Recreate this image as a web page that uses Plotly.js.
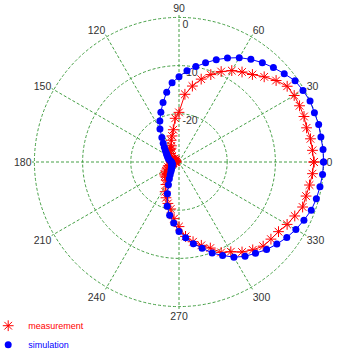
<!DOCTYPE html>
<html>
<head>
<meta charset="utf-8">
<script src="https://cdn.plot.ly/plotly-3.0.1.min.js"></script>
<style>html,body{margin:0;padding:0;background:#fff;}#chart{width:337px;height:352px;}</style>
</head>
<body>
<div id="chart"></div>
<script>
// angles in degrees
const angles = [0,5,10,15,20,25,30,35,40,45,50,55,60,65,70,75,80,85,90,95,100,105,110,115,120,125,130,135,140,145,150,155,160,165,170,175,180,185,190,195,200,205,210,215,220,225,230,235,240,245,250,255,260,265,270,275,280,285,290,295,300,305,310,315,320,325,330,335,340,345,350,355];
// measurement (dB)
const measurement = [-2.0,-2.2,-2.3,-2.6,-2.4,-2.4,-2.4,-2.6,-3.7,-5.0,-6.3,-7.2,-8.1,-9.3,-10.7,-12.2,-14.0,-15.9,-19.7,-20.9,-23.2,-24.4,-25.2,-26.3,-26.7,-26.8,-26.9,-27.5,-28.1,-28.8,-29.2,-29.2,-29.0,-29.0,-29.2,-29.4,-29.4,-29.2,-28.8,-28.3,-27.9,-27.5,-27.1,-26.7,-26.1,-25.9,-25.9,-25.4,-24.6,-23.2,-22.1,-21.1,-20.1,-18.2,-16.6,-14.5,-13.2,-12.1,-11.0,-9.3,-8.5,-7.2,-6.2,-5.3,-5.1,-4.8,-4.1,-3.5,-2.7,-2.7,-2.5,-2.2];
// simulation (dB)
const simulation = [0,0,-0.1,0,-0.1,0,-0.3,-0.6,-1.5,-2.3,-3.1,-4.0,-5.0,-6.2,-7.4,-8.7,-9.9,-11.0,-12.3,-13.5,-15.3,-17.2,-19.0,-20.6,-22.1,-23.8,-24.9,-25.7,-26.3,-26.8,-27.1,-27.4,-27.6,-27.8,-28.1,-28.3,-28.4,-28.5,-28.5,-28.5,-28.5,-28.4,-28.3,-28.2,-28.0,-27.7,-27.4,-26.8,-26.0,-24.8,-23.0,-20.5,-18.8,-17.3,-15.6,-14.2,-12.8,-11.5,-9.9,-8.6,-7.2,-6.1,-5.3,-4.3,-3.5,-2.7,-2.0,-1.4,-0.8,-0.5,-0.3,-0.1];
const angleTicks = [0,30,60,90,120,150,180,210,240,270,300,330];
const angleTickText = ['0','30','60','90','120','150','180','210','240','270','300','330'];
const radialTicks = [-20,-10,0];
const radialTickText = ['-20','-10','0'];
const seriesNames = ['measurement','simulation'];

const close = a => a.concat([a[0]]);
const grid = 'rgb(70,160,70)';
const red = '#ff0000', blue = '#0000ff';
const nb = '\u00a0';
// place the radial labels just right of and below their ring (MATLAB style)
const radialLabels = radialTickText.map(t => nb + '<br>' + nb + t);

const traces = [
  {type:'scatterpolar', mode:'lines+markers', showlegend:false,
   theta: close(angles), r: close(measurement),
   line:{color:red, width:1},
   marker:{symbol:'asterisk-open', size:9, color:red, line:{color:red, width:1}}},
  {type:'scatterpolar', mode:'lines+markers', showlegend:false,
   theta: close(angles), r: close(simulation),
   line:{color:blue, width:1},
   marker:{symbol:'circle', size:7, color:blue}},
  // legend entries
  {type:'scatterpolar', mode:'markers', name:'<span style="color:#ff0000">'+seriesNames[0]+'</span>',
   theta:[null], r:[null], marker:{symbol:'asterisk-open', size:9, color:red, line:{color:red, width:1}}},
  {type:'scatterpolar', mode:'markers', name:'<span style="color:#0000ff">'+seriesNames[1]+'</span>',
   theta:[null], r:[null], marker:{symbol:'circle', size:7, color:blue}}
];

const layout = {
  width:337, height:352,
  margin:{l:31.6, r:10.6, t:14.6, b:42.6, autoexpand:false},
  paper_bgcolor:'#fff',
  font:{family:'Liberation Sans, Arial, sans-serif', size:10, color:'#333'},
  showlegend:true,
  legend:{xref:'paper', yref:'paper', x:-0.149, y:-0.0075, xanchor:'left', yanchor:'top',
          font:{size:9, color:'#333'}, bgcolor:'rgba(0,0,0,0)', tracegroupgap:0, itemwidth:30},
  polar:{
    bgcolor:'#fff',
    domain:{x:[0,1], y:[0,1]},
    angularaxis:{direction:'counterclockwise', rotation:0, tickmode:'array',
      tickvals:angleTicks, ticktext:angleTickText, ticks:'', showline:false, layer:'below traces',
      showgrid:true, gridcolor:grid, gridwidth:1, griddash:'3px,2px',
      tickfont:{size:10.5, color:'#333'}},
    radialaxis:{range:[-30,0.5], tickmode:'array', tickvals:radialTicks, ticktext:radialLabels,
      angle:90, side:'clockwise', tickangle:90, ticks:'', showline:false, layer:'below traces',
      showgrid:true, gridcolor:grid, gridwidth:1, griddash:'3px,2px',
      tickfont:{size:10.5, color:'#333'}}
  }
};
Plotly.newPlot('chart', traces, layout, {displayModeBar:false, staticPlot:true});
</script>
</body>
</html>
